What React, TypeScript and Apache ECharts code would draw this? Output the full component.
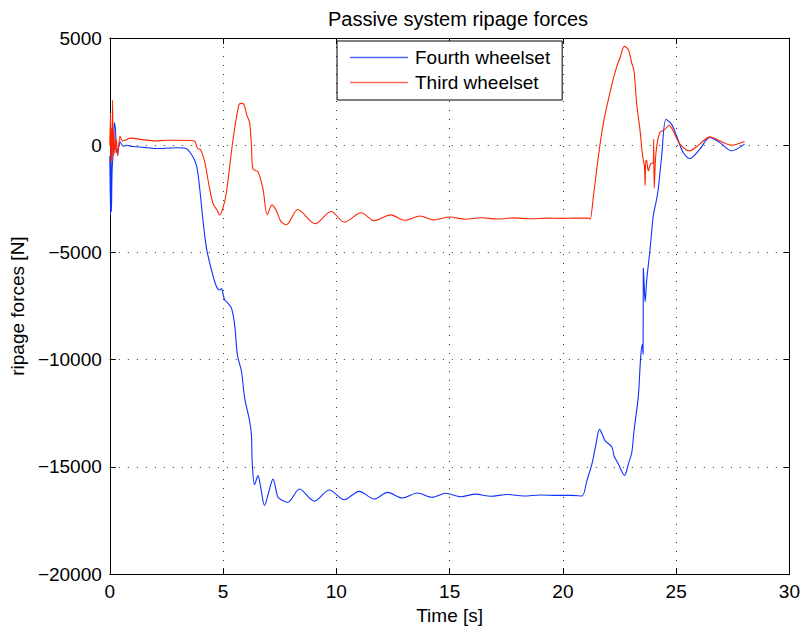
import React, { useEffect, useRef } from "react";
import * as echarts from "echarts";

// Fourth wheelset lateral (ripage) force, time in s, force in N
const fourthTime = [
  0, 0.03, 0.05, 0.07, 0.1, 0.15, 0.2, 0.25, 0.3, 0.38, 0.45, 0.6, 0.75, 1.0, 1.5, 2.0, 2.5, 3.0, 3.3,
  3.6, 3.83, 3.97, 4.12, 4.27, 4.49, 4.71, 4.85, 4.93, 5.0, 5.07, 5.2, 5.37, 5.51, 5.63, 5.81, 5.95,
  6.17, 6.25, 6.29, 6.39, 6.54, 6.66, 6.83, 7.01, 7.2, 7.42, 7.57, 7.86, 8.37, 9.03, 9.69, 10.35,
  11.01, 11.67, 12.26, 12.92, 13.58, 14.24, 14.83, 15.49, 16.15, 16.81, 17.54, 18.27, 19.0, 19.74,
  20.4, 20.84, 21.06, 21.28, 21.45, 21.62, 21.87, 22.16, 22.26, 22.45, 22.64, 22.72, 22.79, 22.89,
  23.04, 23.14, 23.33, 23.43, 23.5, 23.54, 23.55, 23.58, 23.63, 23.7, 23.85, 23.99, 24.11, 24.21,
  24.36, 24.55, 24.8, 25.02, 25.31, 25.6, 26.04, 26.48, 26.93, 27.44, 28.02,
];
const fourthForce = [
  -500, -3250, 400, -3100, -1200, -300, 1050, 700, -350, -100, 150, -50, 0, -60, -100, -150, -140, -120, -130,
  -420, -960, -2040, -3590, -4820, -5830, -6600, -6750, -6680, -6950, -7220, -7350, -7600, -8380, -9770, -10540, -11780,
  -12860, -13500, -14900, -15830, -15410, -15960, -16800, -16190, -15570, -16420, -16540, -16650, -16030, -16600, -16080, -16530,
  -16140, -16500, -16190, -16450, -16220, -16420, -16230, -16390, -16270, -16370, -16290, -16360, -16310, -16330,
  -16330, -16360, -15640, -14870, -14000, -13250, -13790, -14070, -14490, -14870, -15300, -15400, -15260, -14870,
  -14330, -13320, -11700, -9930, -9300, -9750, -5730, -6300, -7300, -6290, -4820, -3280, -2660, -2040,
  -500, 1210, 970, 430, -340, -620, -190, 360, 120, -260, 50,
];

// Third wheelset lateral (ripage) force
const thirdTime = [
  0, 0.03, 0.05, 0.08, 0.1, 0.12, 0.15, 0.18, 0.22, 0.28, 0.35, 0.45, 0.55, 0.7, 0.9, 1.5, 2.0, 2.5, 3.0,
  3.5, 3.74, 3.87, 4.0, 4.18, 4.4, 4.56, 4.72, 4.85, 5.0, 5.15, 5.44, 5.69, 5.8, 5.92, 6.05, 6.17, 6.25,
  6.32, 6.54, 6.76, 6.95, 7.16, 7.35, 7.55, 7.79, 8.3, 9.06, 9.77, 10.35, 11.09, 11.67, 12.4, 13.0, 13.7,
  14.3, 15.0, 15.7, 16.4, 17.1, 17.8, 18.6, 19.3, 20.0, 20.5, 21.13, 21.2, 21.35, 21.57, 21.79, 22.16,
  22.38, 22.52, 22.71, 22.89, 23.04, 23.14, 23.26, 23.4, 23.51, 23.6, 23.63, 23.66, 23.7, 23.77, 23.87,
  23.99, 24.01, 24.03, 24.11, 24.28, 24.5, 24.69, 24.87, 25.17, 25.6, 26.04, 26.48, 26.93, 27.44, 28.02,
];
const thirdForce = [
  0, 1500, -800, 800, -700, 2100, -500, 700, -400, 300, -500, 430, 200, 250, 330, 250, 200, 230, 230,
  220, 200, -150, -200, -730, -2000, -2740, -3000, -3250, -2900, -2180, 280, 1860, 1950, 1900, 1400, 1050, 0,
  -1110, -1240, -2040, -3250, -2780, -3050, -3550, -3710, -3000, -3660, -3090, -3590, -3150, -3520, -3250, -3500, -3300,
  -3480, -3350, -3450, -3380, -3440, -3390, -3430, -3400, -3410, -3400, -3400, -3450, -2350, -500, 1050, 2830,
  3680, 4070, 4610, 4450, 3830, 3450, 1900, 740, -420, -1000, -1890, -700, -730, -1190, -880,
  -800, 280, -2010, -340, 590, 740, 930, 660, 50, -260, 50, 390, 200, 0, 170,
];

const seriesNames = ["Fourth wheelset", "Third wheelset"];
const timeTicks = { min: 0, max: 30, interval: 5 };
const forceTicks = { min: -20000, max: 5000, interval: 5000 };

const FONT = "'Liberation Sans', Helvetica, Arial, sans-serif";

const pairs = (xs: number[], ys: number[]) => xs.map((x, i) => [x, ys[i]]);
const minusLabel = (v: number) => (v < 0 ? "\u2212" + Math.abs(v) : String(v));

export default function App() {
  const ref = useRef<HTMLDivElement>(null);

  useEffect(() => {
    if (!ref.current) return;
    const chart = echarts.init(ref.current, null, { renderer: "svg" });

    const dotted = { type: [1, 8] as any, color: "#333", width: 1 };
    const baseAxis = {
      axisLine: { show: true, onZero: false, lineStyle: { color: "#000", width: 1 } },
      axisTick: { show: true, inside: true, length: 6, lineStyle: { color: "#000" } },
    };

    chart.setOption({
      animation: false,
      backgroundColor: "#fff",
      textStyle: { fontFamily: FONT },
      title: {
        text: "Passive system ripage forces",
        left: 453,
        textAlign: "center",
        top: 4,
        textStyle: { fontFamily: FONT, fontSize: 20, fontWeight: "normal", color: "#000" },
      },
      legend: {
        data: seriesNames,
        orient: "vertical",
        left: 337,
        top: 41,
        icon: "rect",
        backgroundColor: "#fff",
        borderColor: "#000",
        borderWidth: 1,
        borderRadius: 0,
        padding: [7, 12, 8, 13],
        itemGap: 6,
        itemWidth: 58,
        itemHeight: 1.5,
        textStyle: { fontFamily: FONT, fontSize: 19, color: "#000", padding: [0, 0, 0, 2] },
      },
      grid: { left: 108, right: 13, top: 38, bottom: 53, containLabel: false },
      xAxis: [
        {
          type: "value",
          ...timeTicks,
          ...baseAxis,
          name: "Time [s]",
          nameLocation: "middle",
          nameGap: 25,
          nameTextStyle: { fontFamily: FONT, fontSize: 19, color: "#000" },
          axisLabel: { fontFamily: FONT, fontSize: 19, color: "#000", margin: 8 },
          splitLine: { show: true, lineStyle: dotted },
        },
        {
          type: "value",
          position: "top",
          ...timeTicks,
          ...baseAxis,
          axisLabel: { show: false },
          splitLine: { show: false },
        },
      ],
      yAxis: [
        {
          type: "value",
          ...forceTicks,
          ...baseAxis,
          name: "ripage forces [N]",
          nameLocation: "middle",
          nameGap: 80,
          nameTextStyle: { fontFamily: FONT, fontSize: 19, color: "#000" },
          axisLabel: { fontFamily: FONT, fontSize: 19, color: "#000", margin: 8, formatter: minusLabel },
          splitLine: { show: true, lineStyle: dotted },
        },
        {
          type: "value",
          position: "right",
          ...forceTicks,
          ...baseAxis,
          axisLabel: { show: false },
          splitLine: { show: false },
        },
      ],
      series: [
        {
          name: seriesNames[0],
          type: "line",
          data: pairs(fourthTime, fourthForce),
          symbol: "none",
          smooth: 0.3,
          lineStyle: { color: "#0f30ff", width: 1.1 },
          itemStyle: { color: "#4a6aff" },
          z: 3,
        },
        {
          name: seriesNames[1],
          type: "line",
          data: pairs(thirdTime, thirdForce),
          symbol: "none",
          smooth: 0.3,
          lineStyle: { color: "#ff2400", width: 1.1 },
          itemStyle: { color: "#ff6a5a" },
          z: 4,
        },
      ],
    });

    return () => chart.dispose();
  }, []);

  return (
    <div
      ref={ref}
      style={{ position: "fixed", left: 0, top: 0, width: 803, height: 630, background: "#fff" }}
    />
  );
}
